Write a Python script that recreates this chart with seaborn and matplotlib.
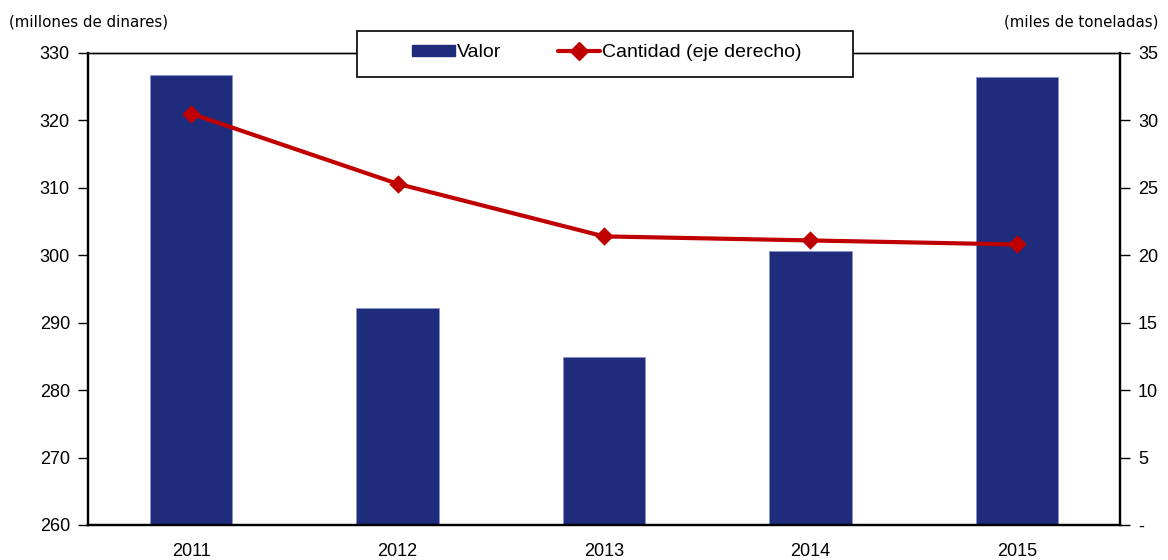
import matplotlib
matplotlib.use('Agg')
import matplotlib.pyplot as plt
import seaborn as sns
from matplotlib.lines import Line2D
from matplotlib.patches import Patch, Rectangle
from matplotlib.ticker import FixedLocator, FuncFormatter

years = ['2011', '2012', '2013', '2014', '2015']
valor = [326.7, 292.2, 284.9, 300.6, 326.4]        # millones de dinares
cantidad = [30.5, 25.3, 21.4, 21.1, 20.8]          # miles de toneladas

NAVY = '#1F2C7C'
RED = '#C00000'

sns.set_style('white')
plt.rcParams['font.family'] = ['Liberation Sans', 'DejaVu Sans']
plt.rcParams['text.color'] = 'black'
plt.rcParams['xtick.color'] = 'black'
plt.rcParams['ytick.color'] = 'black'

fig = plt.figure(figsize=(11.68, 5.6), dpi=100)
ax = fig.add_axes([0.0753, 0.0625, 0.8836, 0.8429])

sns.barplot(x=years, y=valor, color=NAVY, width=0.4, saturation=1,
            edgecolor='#8A93C8', linewidth=0.6, ax=ax)
ax.set_ylim(260, 330)
ax.set_xlim(-0.5, 4.5)
ax.set_yticks(range(260, 331, 10))
ax.set_xlabel('')
ax.set_ylabel('')

ax2 = ax.twinx()
sns.pointplot(x=years, y=cantidad, color=RED, markers='D', markersize=7,
              linewidth=3, ax=ax2)
ax2.set_ylim(0, 35)
ax2.set_xlim(-0.5, 4.5)
ax2.set_yticks(range(0, 36, 5))
ax2.yaxis.set_major_formatter(FuncFormatter(lambda v, p: '-' if v == 0 else f'{v:.0f}'))
ax2.set_xlabel('')
ax2.set_ylabel('')

# ticks between categories
ax.tick_params(axis='x', which='major', length=0, labelsize=13, pad=13)
ax.xaxis.set_minor_locator(FixedLocator([i - 0.5 for i in range(len(years) + 1)]))
ax.tick_params(axis='x', which='minor', length=8, direction='inout', width=1.2, color='black')
ax.tick_params(axis='y', length=7, width=1, color='black', labelsize=13, pad=6, left=True)
ax2.tick_params(axis='y', length=7, width=1, color='black', labelsize=13, pad=6, right=True)

for a in (ax, ax2):
    for side, sp in a.spines.items():
        sp.set_visible(True)
        sp.set_color('black')
        sp.set_linewidth(1.6 if side != 'top' else 1.0)

fig.text(0.008, 0.948, '(millones de dinares)', fontsize=10.8, family='DejaVu Sans',
         ha='left', va='bottom')
fig.text(0.992, 0.948, '(miles de toneladas)', fontsize=10.8, family='DejaVu Sans',
         ha='right', va='bottom')

# legend box (wider than its content, as in the original)
box = Rectangle((0.2607, 0.949), 0.4806, 0.0976, transform=ax2.transAxes,
                facecolor='white', edgecolor='black', linewidth=1.2,
                clip_on=False, zorder=9)
ax2.add_patch(box)

handles = [Patch(facecolor=NAVY, edgecolor=NAVY),
           Line2D([0], [0], color=RED, lw=3, marker='D', markersize=9)]
leg = ax2.legend(handles, ['Valor', 'Cantidad (eje derecho)'], loc='center',
                 bbox_to_anchor=(0.503, 1.0), ncol=2, frameon=False,
                 fontsize=14, handlelength=2.2, handleheight=0.55,
                 handletextpad=0.1, columnspacing=2.9, borderaxespad=0)
leg.set_zorder(10)

fig.savefig('out.png', dpi=100)
